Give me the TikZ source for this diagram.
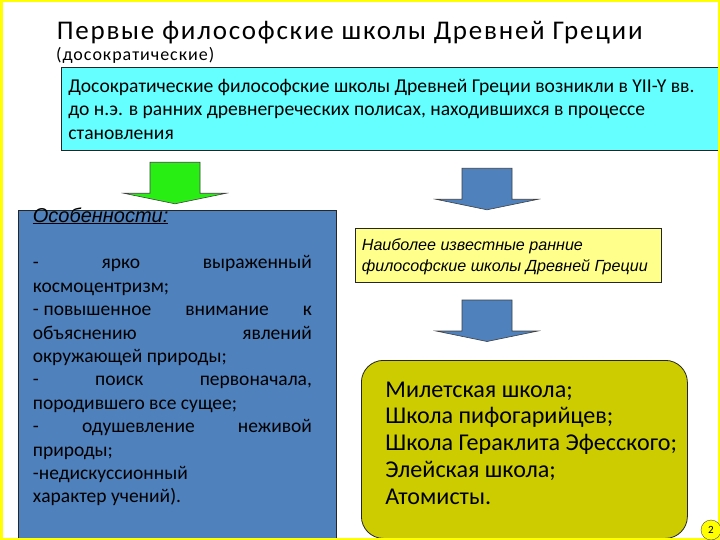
\documentclass[tikz,border=0pt]{standalone}
\usepackage{fontspec}
\setmainfont{Carlito}
\newfontfamily\TITLEFONT{Carlito}[LetterSpace=6.5]
\newfontfamily\SUBFONT{Carlito}[LetterSpace=5.4]
\newfontfamily\ARIALFONT{Liberation Sans}
\usepackage{tikz}
\usetikzlibrary{positioning}
\hfuzz=30pt
\definecolor{CYANBOX}{RGB}{102,255,255}
\definecolor{BLUEBOX}{RGB}{79,129,189}
\definecolor{LEMON}{RGB}{255,255,140}
\definecolor{OLIVEBOX}{RGB}{204,204,0}
\definecolor{LIMEARROW}{RGB}{40,238,20}
\definecolor{FRAMEYELLOW}{RGB}{255,255,0}
% the font's own word spaces, not the fixed ones of align=left
\newcommand{\NORMALSPACE}{\spaceskip=0pt\xspaceskip=0pt\relax}
\tikzstyle{BOX} = [rectangle, draw=black!85, line width=0.8pt, align=left, anchor=north west, inner ysep=0pt, execute at begin node=\NORMALSPACE]
\tikzstyle{ARROW_BLOCK} = [draw=black!75, line width=0.6pt, line join=miter]
% block arrow pointing down, #1 = top middle of the shaft
\newcommand{\DOWNARROW}[2]{%
  \path[ARROW_BLOCK, fill=#2] (#1) ++(-25,0) -- ++(50,0) -- ++(0,31)
    -- ++(26,0) -- ++(-51,10.5) -- ++(-51,-10.5) -- ++(26,0) -- cycle;}
\newcommand{\JLINE}[1]{{\NORMALSPACE\makebox[279pt][s]{#1}}}

\begin{document}
\begin{tikzpicture}[x=1pt, y=-1pt]
% Define
\tikzstyle{TITLE} = [anchor=base west, inner sep=0pt, font=\TITLEFONT\fontsize{27}{31}\selectfont]
\tikzstyle{SUBTITLE} = [anchor=base west, inner sep=0pt, font=\SUBFONT\fontsize{18}{21}\selectfont]
\tikzstyle{RECTANGLE_CYAN} = [BOX, fill=CYANBOX, text width=643pt, inner xsep=7pt, text height=24.4pt, text depth=58.3pt, font=\fontsize{19.6}{23.5}\selectfont]
\tikzstyle{RECTANGLE_BLUE} = [BOX, fill=BLUEBOX, text width=289pt, inner xsep=14.5pt, text height=11.2pt, text depth=320pt, font=\fontsize{19.5}{23.4}\selectfont]
\tikzstyle{RECTANGLE_YELLOW} = [BOX, fill=LEMON, text width=292pt, inner xsep=7pt, text height=21.7pt, text depth=32pt, font=\ARIALFONT\itshape\fontsize{16.1}{21.5}\selectfont]
\tikzstyle{RECTANGLE_OLIVE} = [BOX, fill=OLIVEBOX, rounded corners=22pt, text width=278pt, inner xsep=24pt, text height=36.7pt, text depth=141.3pt, font=\fontsize{24.1}{26.8}\selectfont]
\tikzstyle{PAGENUM} = [circle, draw=black!70, fill=FRAMEYELLOW, minimum size=20pt, inner sep=0pt, font=\fontsize{11}{12}\selectfont]
\useasboundingbox (0,0) rectangle (720,540);
\fill[white] (0,0) rectangle (720,540);
% Place nodes
\node [TITLE] (title) at (56.7,39.3) {Первые философские школы Древней Греции};
\node [SUBTITLE] (subtitle) at (56,60.7) {(досократические)};
\node [RECTANGLE_CYAN] (intro) at (61,67.3) {\mbox{Досократические философские школы Древней Греции возникли в YII-Y вв.}\\до н.э. в ранних древнегреческих полисах, находившихся в процессе\\становления};
\node [RECTANGLE_BLUE] (features) at (18,210.5) {{\ARIALFONT\itshape\fontsize{20}{23.4}\selectfont\underline{Особенности:}}\\[23.4pt]
\JLINE{- ярко выраженный}\\
космоцентризм;\\
\JLINE{-\hspace{0.25em}повышенное внимание к}\\
\JLINE{объяснению явлений}\\
окружающей природы;\\
\JLINE{- поиск первоначала,}\\
породившего все сущее;\\
\JLINE{- одушевление неживой}\\
природы;\\
-недискуссионный\\
характер учений).};
\node [RECTANGLE_YELLOW] (famous) at (354.5,228.3) {Наиболее известные ранние\\философские школы Древней Греции};
\node [RECTANGLE_OLIVE] (schools) at (361,360) {Милетская школа;\\Школа пифогарийцев;\\\mbox{Школа Гераклита Эфесского;}\\Элейская школа;\\Атомисты.};
% ARROWS
\coordinate (a_1) at (175,162.3);
\coordinate (a_2) at (487,168.3);
\coordinate (a_3) at (487,300);
\DOWNARROW{a_1}{LIMEARROW}
\DOWNARROW{a_2}{BLUEBOX}
\DOWNARROW{a_3}{BLUEBOX}
% slide frame
\draw[FRAMEYELLOW, line width=5pt] (0,0) rectangle (720,540);
\node [PAGENUM] (page) at (711,530) {2};
\end{tikzpicture}
\end{document}
